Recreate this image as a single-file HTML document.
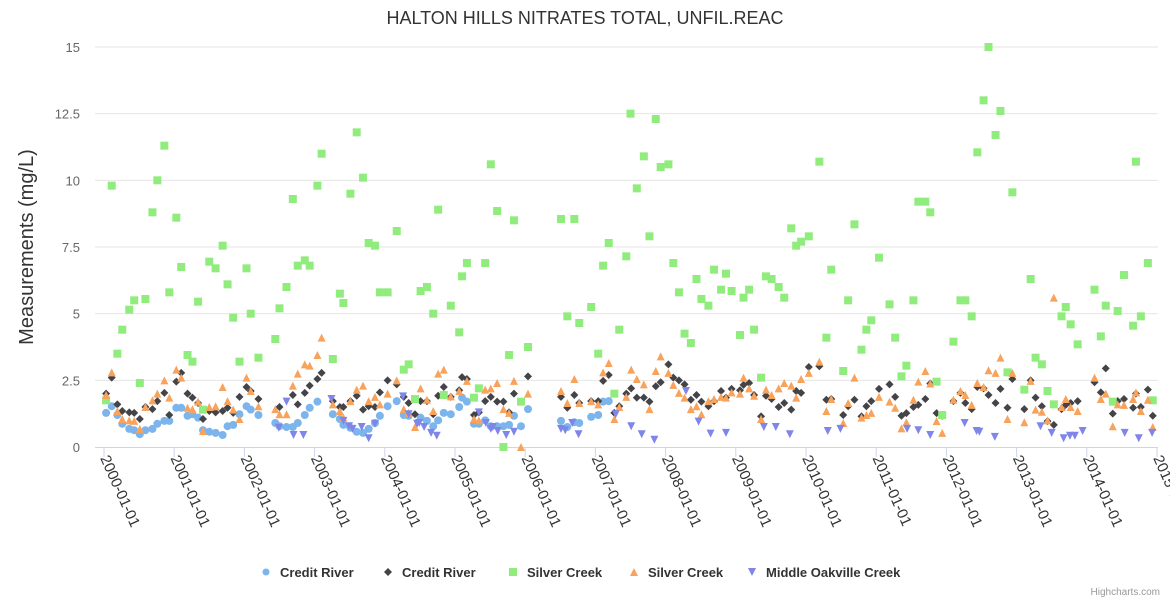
<!DOCTYPE html>
<html><head><meta charset="utf-8"><style>
body{margin:0;background:#fff;}
svg text{font-family:"Liberation Sans",Arial,sans-serif;}
</style></head><body>
<svg id="chart" width="1170" height="600" xmlns="http://www.w3.org/2000/svg">
<rect width="1170" height="600" fill="#fff"/>
<text x="585" y="24" text-anchor="middle" font-size="18" fill="#333">HALTON HILLS NITRATES TOTAL, UNFIL.REAC</text>
<text transform="translate(33,247) rotate(-90)" text-anchor="middle" font-size="20" fill="#333">Measurements (mg/L)</text>
<g id="grid"></g>
<g id="xaxis"></g>
<g id="yaxis"></g>
<g id="marks"></g>
<g id="legend"></g>
<text x="1160" y="595" text-anchor="end" font-size="10" fill="#999">Highcharts.com</text>
</svg>
<script>
// Years since 2000-01-01 and values (mg/L)
const yTicks=[0,2.5,5,7.5,10,12.5,15];
const yTickLabels=["0","2.5","5","7.5","10","12.5","15"];
const xYears=[2000,2001,2002,2003,2004,2005,2006,2007,2008,2009,2010,2011,2012,2013,2014,2015];
const xTickLabels=["2000-01-01","2001-01-01","2002-01-01","2003-01-01","2004-01-01","2005-01-01","2006-01-01","2007-01-01","2008-01-01","2009-01-01","2010-01-01","2011-01-01","2012-01-01","2013-01-01","2014-01-01","2015-0"];
const seriesNames=["Credit River","Credit River","Silver Creek","Silver Creek","Middle Oakville Creek"];
const creditRiverA=[.03,1.28,.11,1.53,.19,1.2,.26,.87,.36,.68,.43,.63,.51,.48,.59,.63,.69,.68,.76,.87,.86,.98,.93,.98,1.03,1.47,1.10,1.47,1.19,1.17,1.26,1.23,1.34,1.1,1.41,.63,1.50,.57,1.59,.53,1.69,.45,1.76,.78,1.84,.83,1.93,1.23,2.03,1.53,2.09,1.4,2.20,1.2,2.44,.9,2.50,.78,2.60,.75,2.69,.75,2.76,.9,2.86,1.2,2.93,1.47,3.04,1.7,3.26,1.23,3.36,1.05,3.41,.83,3.51,.72,3.60,.57,3.69,.53,3.77,.68,3.86,.9,3.93,1.17,4.04,1.53,4.17,1.72,4.27,1.2,4.34,1.17,4.51,1.1,4.60,.98,4.69,.78,4.76,1.0,4.84,1.28,4.94,1.23,5.06,1.5,5.10,1.85,5.17,1.7,5.27,.87,5.34,.87,5.43,1.0,5.51,.78,5.60,.78,5.69,.78,5.77,.83,5.84,1.17,5.94,.78,6.04,1.42,6.51,.98,6.60,.75,6.70,.93,6.77,.9,6.94,1.13,7.04,1.2,7.11,1.7,7.19,1.72];
const creditRiverB=[.03,2.0,.11,2.6,.19,1.6,.26,1.35,.36,1.3,.43,1.28,.51,1.05,.59,1.5,.69,1.42,.76,1.72,.86,2.03,.93,1.2,1.03,2.45,1.10,2.78,1.19,2.0,1.26,1.85,1.34,1.65,1.41,1.05,1.50,1.35,1.59,1.3,1.69,1.35,1.76,1.47,1.84,1.28,1.93,1.88,2.03,2.25,2.09,2.1,2.20,1.8,2.50,1.5,2.69,1.95,2.76,1.6,2.86,2.03,2.93,2.3,3.04,2.55,3.10,2.78,3.26,1.72,3.36,1.5,3.41,1.5,3.51,1.72,3.60,1.92,3.69,1.4,3.77,1.53,3.86,1.5,3.93,2.05,4.04,2.5,4.17,2.35,4.27,1.88,4.34,1.65,4.43,1.23,4.51,1.72,4.60,1.72,4.69,1.23,4.76,1.92,4.84,2.25,4.94,1.88,5.06,2.13,5.10,2.62,5.17,2.55,5.27,1.2,5.34,1.3,5.43,1.72,5.51,1.88,5.60,1.7,5.69,1.7,5.77,1.3,5.84,2.0,6.04,2.65,6.51,1.88,6.60,1.47,6.70,1.95,6.77,1.65,6.94,1.72,7.04,1.72,7.11,2.48,7.19,2.7,7.27,1.28,7.34,1.53,7.44,2.0,7.51,2.2,7.59,1.85,7.69,1.85,7.77,1.7,7.86,2.28,7.93,2.43,8.04,3.1,8.11,2.6,8.19,2.5,8.27,2.35,8.36,1.77,8.44,1.95,8.51,1.7,8.61,1.53,8.69,1.72,8.79,2.1,8.86,1.85,8.94,2.18,9.06,2.13,9.11,2.33,9.19,2.4,9.26,1.95,9.36,1.15,9.43,1.92,9.51,1.8,9.61,1.5,9.69,1.65,9.79,1.4,9.86,2.1,9.93,2.03,10.04,3.0,10.19,3.03,10.29,1.77,10.36,1.8,10.53,1.2,10.60,1.53,10.69,1.77,10.79,1.15,10.86,1.53,10.93,1.72,11.04,2.18,11.19,2.35,11.27,1.88,11.36,1.17,11.43,1.27,11.53,1.5,11.60,1.58,11.70,1.8,11.77,2.38,11.86,1.27,11.94,1.17,12.10,1.72,12.20,2.03,12.27,1.65,12.36,1.42,12.44,2.25,12.53,2.2,12.60,1.95,12.70,1.65,12.77,2.18,12.87,1.47,12.94,2.55,13.11,1.42,13.20,2.5,13.27,1.85,13.36,1.53,13.44,.97,13.53,.83,13.64,1.42,13.70,1.58,13.77,1.65,13.87,1.72,14.11,2.43,14.20,2.05,14.27,2.95,14.37,1.25,14.44,1.72,14.53,1.8,14.66,1.47,14.70,2.0,14.77,1.5,14.87,2.15,14.94,1.17];
const silverCreekA=[.03,1.75,.11,9.8,.19,3.5,.26,4.4,.36,5.15,.43,5.5,.51,2.4,.59,5.55,.69,8.8,.76,10.0,.86,11.3,.93,5.8,1.03,8.6,1.10,6.75,1.19,3.45,1.26,3.2,1.34,5.45,1.41,1.4,1.50,6.95,1.59,6.7,1.69,7.55,1.76,6.1,1.84,4.85,1.93,3.2,2.03,6.7,2.09,5.0,2.20,3.35,2.44,4.05,2.50,5.2,2.60,6.0,2.69,9.3,2.76,6.8,2.86,7.0,2.93,6.8,3.04,9.8,3.10,11.0,3.26,3.3,3.36,5.75,3.41,5.4,3.51,9.5,3.60,11.8,3.69,10.1,3.77,7.65,3.86,7.55,3.93,5.8,4.04,5.8,4.17,8.1,4.27,2.9,4.34,3.1,4.43,1.8,4.51,5.85,4.60,6.0,4.69,5.0,4.76,8.9,4.84,1.95,4.94,5.3,5.06,4.3,5.10,6.4,5.17,6.9,5.27,1.85,5.34,2.2,5.43,6.9,5.51,10.6,5.60,8.85,5.69,0,5.77,3.45,5.84,8.5,5.94,1.7,6.04,3.75,6.51,8.55,6.60,4.9,6.70,8.55,6.77,4.65,6.94,5.25,7.04,3.5,7.11,6.8,7.19,7.65,7.27,2.0,7.34,4.4,7.44,7.15,7.50,12.5,7.59,9.7,7.69,10.9,7.77,7.9,7.86,12.3,7.93,10.5,8.04,10.6,8.11,6.9,8.19,5.8,8.27,4.25,8.36,3.9,8.44,6.3,8.51,5.55,8.61,5.3,8.69,6.65,8.79,5.9,8.86,6.5,8.94,5.85,9.06,4.2,9.11,5.6,9.19,5.9,9.26,4.4,9.36,2.6,9.43,6.4,9.51,6.3,9.61,6.0,9.69,5.6,9.79,8.2,9.86,7.55,9.93,7.7,10.04,7.9,10.19,10.7,10.29,4.1,10.36,6.65,10.53,2.85,10.60,5.5,10.69,8.35,10.79,3.65,10.86,4.4,10.93,4.75,11.04,7.1,11.19,5.35,11.27,4.1,11.36,2.65,11.43,3.05,11.53,5.5,11.60,9.2,11.70,9.2,11.77,8.8,11.86,2.45,11.94,1.2,12.10,3.95,12.20,5.5,12.27,5.5,12.36,4.9,12.44,11.05,12.53,13.0,12.60,15.0,12.70,11.7,12.77,12.6,12.87,2.8,12.94,9.55,13.11,2.15,13.20,6.3,13.27,3.35,13.36,3.1,13.44,2.1,13.53,1.6,13.64,4.9,13.70,5.25,13.77,4.6,13.87,3.85,14.11,5.9,14.20,4.15,14.27,5.3,14.37,1.7,14.44,5.1,14.53,6.45,14.66,4.55,14.70,10.7,14.77,4.9,14.87,6.9,14.94,1.75];
const silverCreekB=[.03,1.95,.11,2.8,.19,1.35,.26,1.05,.36,1.0,.43,.98,.51,.68,.59,1.5,.69,1.75,.76,2.0,.86,2.5,.93,1.85,1.03,2.9,1.10,2.6,1.19,1.47,1.26,1.42,1.34,1.7,1.41,.6,1.50,1.5,1.59,1.53,1.69,2.25,1.76,1.72,1.84,1.4,1.93,1.05,2.03,2.6,2.09,2.1,2.20,1.53,2.44,1.42,2.50,1.23,2.60,1.23,2.69,2.3,2.76,2.75,2.86,3.1,2.93,3.05,3.04,3.45,3.10,4.1,3.26,1.6,3.36,1.35,3.41,1.1,3.51,1.72,3.60,2.15,3.69,2.3,3.77,1.72,3.86,1.88,3.93,1.6,4.04,2.0,4.17,2.5,4.27,1.42,4.34,1.28,4.43,.75,4.51,2.2,4.60,1.77,4.69,1.35,4.76,2.75,4.84,2.9,4.94,1.9,5.06,2.1,5.17,2.48,5.27,1.05,5.34,1.0,5.43,2.15,5.51,2.2,5.60,2.4,5.69,1.42,5.77,1.28,5.84,2.48,5.94,0,6.04,2.0,6.51,2.1,6.60,1.65,6.70,2.55,6.77,1.65,6.94,1.72,7.04,1.6,7.11,2.8,7.19,3.15,7.27,1.05,7.34,1.5,7.44,1.88,7.51,2.9,7.59,2.55,7.69,2.35,7.77,1.42,7.86,2.85,7.93,3.4,8.04,2.78,8.11,2.33,8.19,2.03,8.27,1.85,8.36,1.42,8.44,1.53,8.51,1.23,8.61,1.72,8.69,1.8,8.79,1.88,8.86,1.85,8.94,2.05,9.06,2.0,9.11,2.6,9.19,2.2,9.26,1.92,9.36,1.05,9.43,2.15,9.51,1.95,9.61,2.2,9.69,2.4,9.79,2.3,9.86,1.85,9.93,2.55,10.04,2.78,10.19,3.2,10.29,1.35,10.36,1.8,10.53,.9,10.60,1.65,10.69,2.6,10.79,1.1,10.86,1.2,10.93,1.28,11.04,1.88,11.19,1.7,11.27,1.47,11.36,.7,11.43,.93,11.53,1.77,11.60,2.45,11.70,2.85,11.77,2.38,11.86,.97,11.94,.53,12.10,1.77,12.20,2.1,12.27,1.95,12.36,1.58,12.44,2.4,12.53,2.25,12.60,2.88,12.70,2.78,12.77,3.35,12.87,1.05,12.94,2.78,13.11,.93,13.20,2.48,13.27,1.4,13.36,1.32,13.44,1.0,13.53,5.6,13.64,1.5,13.70,1.8,13.77,1.5,13.87,1.35,14.11,2.6,14.20,1.8,14.27,2.0,14.37,.78,14.44,1.6,14.53,1.58,14.66,1.8,14.70,2.05,14.77,1.35,14.87,1.77,14.94,.75];
const middleOakville=[2.49,.72,2.60,1.7,2.70,.45,2.84,.45,3.24,1.8,3.41,.98,3.49,.78,3.54,.68,3.67,.75,3.77,.33,3.86,.87,4.26,1.9,4.34,1.23,4.46,.87,4.49,.9,4.56,.75,4.66,.53,4.74,.42,5.34,1.3,5.44,.9,5.51,.68,5.54,.75,5.61,.6,5.73,.45,5.84,.57,6.51,.68,6.57,.63,6.67,.9,6.76,.48,7.29,1.23,7.51,.78,7.66,.48,7.84,.27,8.29,2.1,8.47,.95,8.64,.5,8.86,.53,9.40,.75,9.57,.75,9.77,.48,10.31,.6,10.49,.68,11.44,.68,11.60,.63,11.77,.45,12.26,.9,12.43,.6,12.47,.57,12.69,.38,13.34,.78,13.50,.53,13.67,.33,13.76,.42,13.83,.42,13.94,.6,14.54,.53,14.74,.33,14.93,.53];

const NS="http://www.w3.org/2000/svg";
const X0=104,X1=1157,Y0=447,Y1=47;
function xs(t){return X0+t/15*(X1-X0);}
function ys(v){return Y0-(v/15)*(Y0-Y1);}
function mk(tag,attrs,parent){const e=document.createElementNS(NS,tag);for(const k in attrs)e.setAttribute(k,attrs[k]);parent.appendChild(e);return e;}
const grid=document.getElementById('grid'),yax=document.getElementById('yaxis'),xax=document.getElementById('xaxis'),marks=document.getElementById('marks'),legend=document.getElementById('legend');
yTicks.forEach((v,i)=>{
  if(v>0){const g=mk('line',{x1:95,x2:1158,y1:ys(v),y2:ys(v),stroke:'#e6e6e6','stroke-width':1},grid);
  
  }
  const t=mk('text',{x:80,y:ys(v)+5,'text-anchor':'end','font-size':13,fill:'#666'},yax);
  t.textContent=yTickLabels[i];
  
  
});
const al=mk('line',{x1:95,x2:1158,y1:Y0+0.5,y2:Y0+0.5,stroke:'#ccd6eb','stroke-width':1},xax);


xYears.forEach((yr,i)=>{
  const x=xs(yr-2000);
  const tk=mk('line',{x1:x,x2:x,y1:Y0,y2:Y0+10,stroke:'#ccd6eb','stroke-width':1},xax);
  
  
  const t=mk('text',{x:0,y:0,'font-size':15,fill:'#333',transform:`translate(${x-4},${Y0+11}) rotate(66)`},xax);
  t.textContent=xTickLabels[i];
  
  
});
const colors=['#7cb5ec','#434348','#90ed7d','#f7a35c','#8085e9'];
const shapes=['circle','diamond','square','triangle','triangle-down'];
function marker(shape,x,y,c,parent,r){
  r=r||4;let e;
  if(shape==='circle')e=mk('circle',{cx:x,cy:y,r:r,fill:c},parent);
  else if(shape==='square')e=mk('rect',{x:x-r,y:y-r,width:2*r,height:2*r,fill:c},parent);
  else if(shape==='diamond')e=mk('path',{d:`M${x},${y-r}L${x+r},${y}L${x},${y+r}L${x-r},${y}Z`,fill:c},parent);
  else if(shape==='triangle')e=mk('path',{d:`M${x},${y-r}L${x+r},${y+r}L${x-r},${y+r}Z`,fill:c},parent);
  else e=mk('path',{d:`M${x-r},${y-r}L${x+r},${y-r}L${x},${y+r}Z`,fill:c},parent);
  return e;
}
const allSeries=[creditRiverA,creditRiverB,silverCreekA,silverCreekB,middleOakville];
const seriesKeys=['credit-river-1','credit-river-2','silver-creek-1','silver-creek-2','middle-oakville-creek'];
allSeries.forEach((arr,si)=>{
  const g=mk('g',{},marks);
  
  
  for(let i=0;i<arr.length;i+=2){
    const m=marker(shapes[si],xs(arr[i]),ys(arr[i+1]),colors[si],g,4);
    
    
  }
});
const legX=[266,388,513,634,752];
seriesNames.forEach((n,i)=>{
  const g=mk('g',{},legend);
  
  
  marker(shapes[i],legX[i],572,colors[i],g,i===0?3.5:4);
  const t=mk('text',{x:legX[i]+14,y:577,'font-size':13,'font-weight':'bold',fill:'#333'},g);
  t.textContent=n;
});
</script>
</body></html>
